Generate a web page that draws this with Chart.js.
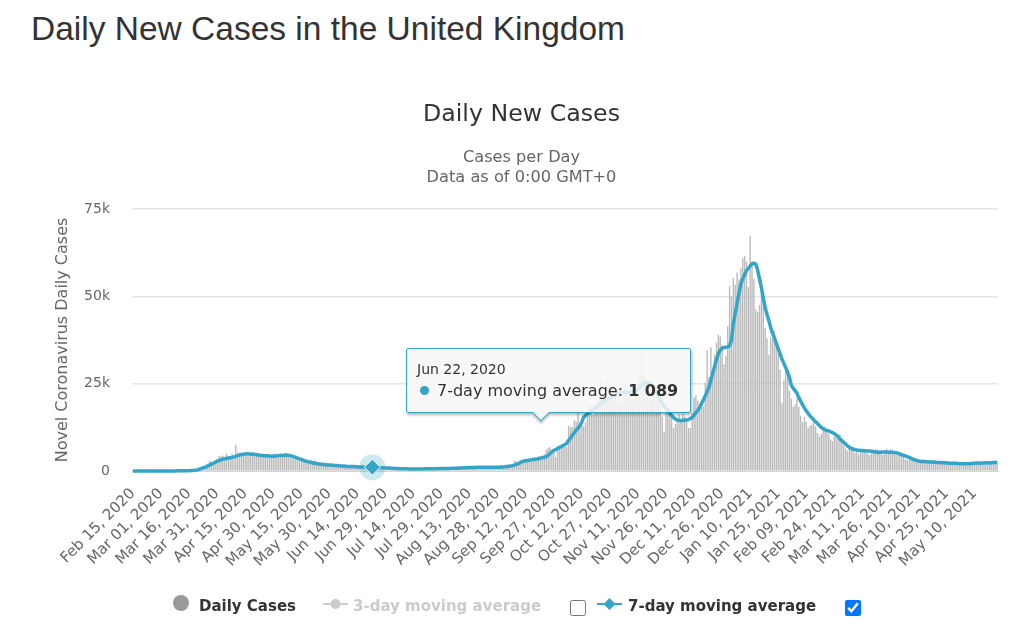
<!DOCTYPE html>
<html>
<head>
<meta charset="utf-8">
<title>Daily New Cases in the United Kingdom</title>
<script src="https://cdn.jsdelivr.net/npm/chart.js@4/dist/chart.umd.min.js"></script>
<style>
  html, body { margin: 0; padding: 0; background: #fff; }
  body { width: 1015px; height: 633px; position: relative; overflow: hidden; font-family: "DejaVu Sans", sans-serif; }
  h1 { position: absolute; left: 31px; top: 10px; margin: 0; font: 400 33.5px "Liberation Sans", sans-serif; color: #333; white-space: nowrap; }
  #chartDaily { position: absolute; left: 30px; top: 90px; }
  .tip { position: absolute; left: 406px; top: 348px; width: 283px; height: 63px; background: rgba(247,247,247,.85); border: 1px solid #33a5c9; border-radius: 2px; box-shadow: 1px 2px 3px rgba(0,0,0,.3); color: #333; }
  .tip .when { position: absolute; left: 10px; top: 12px; font-size: 14px; }
  .tip .what { position: absolute; left: 13px; top: 32px; font-size: 16px; white-space: nowrap; }
  .tip .dot { display: inline-block; width: 9px; height: 9px; border-radius: 50%; background: #33a5c9; margin-right: 8px; position: relative; top: -1px; }
  .caret { position: absolute; left: 535px; top: 407px; width: 11px; height: 11px; transform: rotate(45deg); background: rgba(247,247,247,.95); border-right: 1px solid #33a5c9; border-bottom: 1px solid #33a5c9; box-shadow: 2px 2px 2px rgba(0,0,0,.2); }
  .lg { position: absolute; top: 597px; font-size: 15px; font-weight: bold; color: #333; white-space: nowrap; }
  .lg.off { color: #ccc; }
  .ball { position: absolute; left: 173px; top: 595px; width: 16px; height: 16px; border-radius: 50%; background: #999; }
  .sym { position: absolute; top: 596px; }
  input { position: absolute; margin: 0; width: 16px; height: 16px; top: 600px; }
</style>
</head>
<body>
<h1>Daily New Cases in the United Kingdom</h1>
<canvas id="chartDaily" width="983" height="510"></canvas>

<div class="tip">
  <div class="when" id="tipDate"></div>
  <div class="what"><span class="dot"></span>7-day moving average: <b id="tipValue"></b></div>
</div>
<div class="caret"></div>

<div class="ball"></div>
<div class="lg" style="left:199px">Daily Cases</div>
<svg class="sym" style="left:323px" width="25" height="16"><path d="M0 8H25" stroke="#ccc" stroke-width="2"/><circle cx="12.5" cy="8" r="5" fill="#ccc"/></svg>
<div class="lg off" style="left:353px">3-day moving average</div>
<input type="checkbox" style="left:570px">
<svg class="sym" style="left:597px" width="25" height="16"><path d="M0 8H25" stroke="#33a5c9" stroke-width="2"/><path d="M12.5 2L18.5 8L12.5 14L6.500 8Z" fill="#33a5c9"/></svg>
<div class="lg" style="left:628px">7-day moving average</div>
<input type="checkbox" checked style="left:845px">

<script>
const firstDay = new Date(Date.UTC(2020, 1, 15));
const highlightIndex = 128; // Jun 22, 2020

// one row per month
const dailyCases = [
  0,0,0,0,0,0,0,1,4,0,0,0,1,2,3,
  12,4,11,34,29,46,46,65,50,52,83,139,207,264,330,152,407,676,643,714,1035,665,967,1427,1452,2129,2885,2546,2433,2619,3009,
  4324,4244,4450,3735,5000,3802,3634,5000,4344,7500,5233,5288,4342,5252,4603,4617,5100,5000,5200,4676,4301,4451,4583,5000,4913,4463,4309,3996,4076,4900,
  5000,4806,4339,3985,4406,5100,5000,4649,3896,3923,3877,3403,3242,3446,3560,3450,3142,2615,2684,3287,2795,3180,2705,2409,2126,2286,2004,2012,2095,1936,1570,
  1653,1871,1805,1650,1557,1326,1205,1741,1003,1266,1541,1425,1514,1056,1056,1279,1115,1218,1346,1295,1221,958,1024,1280,1221,1118,890,901,1118,689,
  829,576,544,630,516,352,581,630,512,650,820,530,650,470,530,640,670,650,830,445,580,560,769,880,770,740,685,580,763,846,880,
  743,744,670,892,670,950,1062,758,1148,1062,1148,1009,1441,1040,1012,713,1040,812,1182,1033,1288,1041,1033,853,1048,1184,1522,1276,1108,1715,1406,
  736,1295,1508,1813,1735,2988,2948,2460,2659,2919,3539,3497,3330,2621,2659,3105,3991,3395,4322,3899,4368,4926,6178,6634,6874,6042,5693,4044,7143,7108,
  6900,7100,6900,6970,12870,12600,12590,14540,14160,17540,13860,15170,12870,13970,17230,18980,18450,16170,16980,18800,21330,26000,21240,20530,23010,19790,20890,22880,24700,23060,24400,
  21900,18950,20010,25170,24140,23290,24960,20350,21000,22800,25000,27500,33000,27300,26860,24960,21360,20050,24140,23000,22910,20250,18660,15450,11300,17000,17550,18000,15900,12300,
  13430,14880,16170,14880,16300,15540,14000,12280,12280,16580,20960,21700,20000,19000,18450,18450,25160,34500,27000,35400,27050,33300,36800,39000,38500,36000,30500,33000,41400,53000,50000,
  55200,53300,56800,54900,58000,60900,61600,60000,52600,67300,59900,54940,46170,45500,47500,55000,48000,41000,38000,33300,38300,37900,40200,36000,33600,29000,19400,26000,28300,29000,23000,
  20700,18400,19000,21000,18300,15800,14000,15500,14100,12400,13000,13300,15100,12700,10900,9800,10600,12000,12700,12000,10600,9000,8500,9900,10600,9900,10600,9000,
  7400,6400,5800,7000,6600,6000,5200,5500,4700,5800,6000,5900,5500,5000,4600,5100,5300,6300,6000,5900,5400,4700,5300,6400,5600,6200,6100,5000,4700,5000,4600,
  4500,4500,3400,3100,3800,4000,3700,2800,2500,3000,3100,3200,2800,2700,2500,2300,2600,2900,3000,2600,2400,2000,2300,2700,2800,2500,2100,2000,2400,2500,
  2300,1700,1800,2100,2400,2500,2400,2000,1700,2400,2300,2700,2500,2200,1900,2200,2500,2700,2800,2400,2100,2600
];

const movingAverage7 = [
  1,1,0,0,0,0,0,1,1,1,2,2,2,3,3,
  4,5,6,8,12,17,24,30,35,42,50,58,63,68,80,95,120,150,200,280,400,600,800,1000,1200,1450,1700,1950,2200,2500,2800,
  3000,3200,3350,3500,3600,3700,3800,3900,4050,4200,4400,4550,4700,4800,4850,4950,4900,4800,4850,4750,4700,4600,4500,4450,4400,4400,4350,4300,4250,4250,
  4300,4350,4400,4500,4450,4500,4600,4500,4400,4250,4100,3900,3700,3500,3300,3100,2900,2750,2600,2500,2350,2200,2150,2050,1950,1900,1850,1800,1750,1700,1700,
  1650,1600,1550,1500,1450,1400,1400,1350,1320,1300,1280,1260,1230,1200,1180,1160,1140,1120,1110,1100,1095,1089,1070,1040,1010,980,950,920,890,860,
  830,800,770,740,720,690,660,650,630,620,610,600,600,590,590,590,590,600,600,610,620,620,630,640,650,660,680,690,700,720,730,
  740,750,770,790,800,820,830,850,870,900,930,960,980,1010,1020,1030,1040,1050,1060,1070,1070,1060,1050,1040,1040,1050,1060,1080,1100,1130,1160,
  1200,1280,1350,1420,1550,1700,1900,2100,2400,2650,2800,2950,3000,3100,3200,3300,3350,3450,3550,3700,3850,3950,4100,4500,5000,5500,5900,6100,6400,6800,
  7000,7300,7600,8000,8800,9500,10300,11000,11700,12300,13000,14000,15400,15900,16400,16800,17100,17500,17900,18400,18900,19300,19700,20100,20400,20700,21000,21300,21600,21900,22100,
  22300,22400,22600,22500,22400,22500,22600,22700,22800,23100,23600,24100,24600,25000,25200,25300,25200,24800,24200,23500,22800,21900,20200,19400,18600,17900,17200,16500,15900,15300,
  14900,14600,14500,14400,14500,14500,14600,14700,15000,15300,16000,16700,17400,18200,19300,20400,21500,22700,24000,26000,28000,30000,32000,33600,34600,35100,35300,35400,35500,35900,37500,
  42200,45000,48000,50800,53500,55000,56200,57300,58000,58700,59300,59500,59200,57500,55000,52500,49500,46800,44800,43000,41000,39400,38000,36500,35000,33500,32000,30800,29600,28200,26800,
  24500,23700,23000,22300,21000,20000,19000,18000,17200,16500,15800,15200,14600,14100,13600,13000,12500,12100,11800,11600,11500,11200,11000,10700,10300,9800,9200,8700,
  8200,7700,7200,6800,6500,6300,6100,6000,5950,5900,5850,5800,5750,5700,5700,5650,5500,5450,5400,5400,5400,5450,5450,5450,5400,5400,5350,5300,5200,5100,4900,
  4700,4500,4300,4100,3900,3650,3400,3200,3000,2850,2750,2700,2700,2650,2650,2600,2600,2550,2500,2450,2450,2400,2350,2350,2300,2300,2250,2250,2200,2200,
  2150,2100,2100,2050,2050,2050,2100,2150,2200,2250,2300,2300,2250,2300,2300,2350,2350,2300,2350,2400,2450,2500
];

const yTicks = [0, 25000, 50000, 75000];
const tickEvery = 15; // a date label every 15 days

// categories: one per day
const months = ["Jan","Feb","Mar","Apr","May","Jun","Jul","Aug","Sep","Oct","Nov","Dec"];
const labels = dailyCases.map((v, i) => {
  const d = new Date(firstDay.getTime() + i * 86400000);
  return months[d.getUTCMonth()] + " " + String(d.getUTCDate()).padStart(2, "0") + ", " + d.getUTCFullYear();
});

const lineColor = "#33a5c9";

// pale circle round the hovered point
const haloPlugin = {
  id: "halo",
  beforeDatasetsDraw(chart) {
    const pt = chart.getDatasetMeta(1).data[highlightIndex];
    const ctx = chart.ctx;
    ctx.save();
    ctx.beginPath();
    ctx.arc(pt.x, pt.y, 13, 0, Math.PI * 2);
    ctx.fillStyle = "rgba(51,165,201,.25)";
    ctx.fill();
    ctx.restore();
  }
};

new Chart(document.getElementById("chartDaily"), {
  type: "bar",
  data: {
    labels: labels,
    datasets: [
      {
        label: "Daily Cases",
        data: dailyCases,
        backgroundColor: "#bbbbbb",
        categoryPercentage: 1,
        barPercentage: 0.75,
        order: 2
      },
      {
        type: "line",
        label: "7-day moving average",
        data: movingAverage7,
        borderColor: lineColor,
        borderWidth: 3.5,
        tension: 0,
        clip: false,
        pointStyle: "rectRot",
        pointRadius: ctx => ctx.dataIndex === highlightIndex ? 8 : 0,
        pointBackgroundColor: lineColor,
        pointBorderColor: "#fff",
        pointBorderWidth: 1,
        order: 1
      }
    ]
  },
  options: {
    responsive: false,
    animation: false,
    events: [],
    layout: { padding: { top: 11, left: 15, right: 15, bottom: 0 } },
    plugins: {
      legend: { display: false },
      tooltip: { enabled: false },
      title: {
        display: true,
        text: "Daily New Cases",
        color: "#333",
        font: { family: "DejaVu Sans", size: 23.7, weight: "normal" },
        padding: { top: 0, bottom: 18 }
      },
      subtitle: {
        display: true,
        text: ["Cases per Day", "Data as of 0:00 GMT+0"],
        color: "#666",
        font: { family: "DejaVu Sans", size: 16.2, lineHeight: 1.25 },
        padding: { top: 0, bottom: 21 }
      }
    },
    scales: {
      x: {
        grid: { display: false },
        border: { color: "#ccd6eb" },
        afterFit(scale) {
          scale.height = 129;
          // rotated labels must not push the plot edges in
          scale.paddingLeft = 0;
          scale.paddingRight = 0;
        },
        ticks: {
          autoSkip: false,
          minRotation: 45,
          maxRotation: 45,
          padding: 6,
          color: "#666",
          font: { family: "DejaVu Sans", size: 15 },
          callback(value, i) { return i % tickEvery === 0 ? labels[i] : ""; }
        }
      },
      y: {
        min: 0,
        max: 75000,
        afterFit(scale) { scale.width = 87; },
        afterBuildTicks(scale) { scale.ticks = yTicks.map(v => ({ value: v })); },
        grid: { color: "#e6e6e6", lineWidth: 1.5, drawTicks: false },
        border: { display: false },
        title: {
          display: true,
          text: "Novel Coronavirus Daily Cases",
          color: "#666",
          font: { family: "DejaVu Sans", size: 16 },
          padding: { top: 8, bottom: 0 }
        },
        ticks: {
          padding: 22,
          color: "#666",
          font: { family: "DejaVu Sans", size: 14 },
          callback(v) { return v === 0 ? "0" : (v / 1000) + "k"; }
        }
      }
    }
  },
  plugins: [haloPlugin]
});

document.getElementById("tipDate").textContent = labels[highlightIndex];
document.getElementById("tipValue").textContent = movingAverage7[highlightIndex].toLocaleString("en-US").replace(",", " ");
</script>
</body>
</html>
